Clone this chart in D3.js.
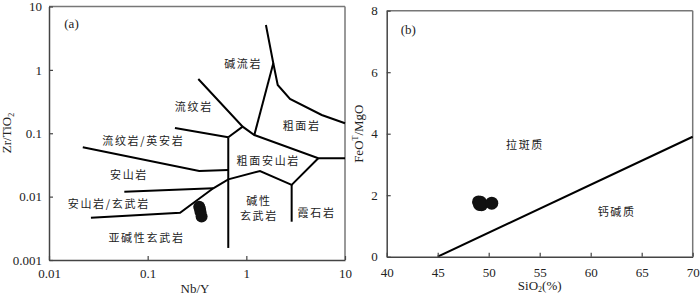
<!DOCTYPE html>
<html><head><meta charset="utf-8">
<script src="https://cdn.jsdelivr.net/npm/d3@7"></script>
<style>
html,body{margin:0;padding:0;background:#fff;}
svg text{fill:#222;}
.num{font-family:"Liberation Serif","DejaVu Serif",serif;font-size:13px;}
.cjk{font-family:"Noto Sans CJK SC",sans-serif;font-size:11px;letter-spacing:1.7px;}
</style>
</head><body>
<svg id="c" width="700" height="298"></svg>
<script>
// ---------- Data: panel (a) Nb/Y vs Zr/TiO2 ----------
const aTicksX = [0.01, 0.1, 1, 10];
const aTicksY = [0.001, 0.01, 0.1, 1, 10];
const aTickLabelsX = ["0.01", "0.1", "1", "10"];
const aTickLabelsY = ["0.001", "0.01", "0.1", "1", "10"];
const aBoundaries = [
  [[1.58,5.1],[1.876,1.27],[2.08,0.577],[2.77,0.347],[5.81,0.194],[10,0.1436]],
  [[1.876,1.27],[1.205,0.0938]],
  [[0.326,0.718],[0.918,0.127],[1.205,0.0938],[5.36,0.0403],[10,0.0403]],
  [[0.918,0.127],[0.656,0.0863]],
  [[0.189,0.121],[0.656,0.0863]],
  [[0.656,0.0863],[0.656,0.00155]],
  [[5.36,0.0403],[2.88,0.0153],[1.376,0.0254],[0.656,0.01876],[0.462,0.01353],[0.213,0.00557],[0.0266,0.00465]],
  [[0.058,0.01197],[0.462,0.01353]],
  [[0.022,0.06],[0.333,0.0254],[0.656,0.0263]],
  [[2.88,0.0153],[2.88,0.00402]]
];
const aFieldNames = ["碱流岩","流纹岩","粗面岩","流纹岩/英安岩","粗面安山岩","安山岩","安山岩/玄武岩","亚碱性玄武岩","碱性","玄武岩","霞石岩"];
const aFieldX = [0.93, 0.294, 3.64, 0.0904, 1.67, 0.0647, 0.0404, 0.0973, 1.343, 1.343, 5.16];
const aFieldY = [1.27, 0.269, 0.1334, 0.0782, 0.0378, 0.0228, 0.00794, 0.00231, 0.0087, 0.00505, 0.00578];
const aSampleNbY = [0.333, 0.339, 0.343, 0.352];
const aSampleZrTi = [0.00695, 0.00638, 0.00572, 0.00484];

// ---------- Data: panel (b) SiO2 vs FeOT/MgO ----------
const bTicksX = [40, 45, 50, 55, 60, 65, 70];
const bTicksY = [0, 2, 4, 6, 8];
const bDivider = [[45, 0], [70, 3.9]];
const bFieldNames = ["拉斑质", "钙碱质"];
const bFieldX = [53.56, 62.55];
const bFieldY = [3.665, 1.476];
const bSampleSiO2 = [49.0, 49.1, 49.3, 49.2, 50.3];
const bSampleFeMg = [1.78, 1.70, 1.69, 1.77, 1.74];

const svg = d3.select("#c");

function frame(g, x0, x1, y0, y1) {
  g.append("line").attr("x1", x0).attr("x2", x1).attr("y1", y0).attr("y2", y0)
    .attr("stroke", "#777").attr("stroke-width", 1.5);
  g.append("line").attr("x1", x1).attr("x2", x1).attr("y1", y0).attr("y2", y1)
    .attr("stroke", "#777").attr("stroke-width", 1.5);
}
function styleAxis(g) {
  g.select(".domain").attr("stroke", "#444").attr("stroke-width", 1.5);
  g.selectAll(".tick line").attr("stroke", "#444").attr("stroke-width", 1.2);
  g.selectAll(".tick text").attr("class", "num").attr("fill", "#222")
    .style("font-family", '"Liberation Serif",serif').style("font-size", "13px");
}

// ---------- Panel (a) ----------
const ax = d3.scaleLog().domain([0.01, 10]).range([49, 345]);
const ay = d3.scaleLog().domain([0.001, 10]).range([260, 6.5]);
const ga = svg.append("g");
frame(ga, 49, 345, 6.5, 260);
const aLine = d3.line().x(d => ax(d[0])).y(d => ay(d[1]));
ga.selectAll("path.bd").data(aBoundaries).join("path").attr("class", "bd")
  .attr("d", aLine).attr("fill", "none").attr("stroke", "#000").attr("stroke-width", 2)
  .attr("stroke-linejoin", "miter");
ga.append("g").attr("transform", "translate(0,260)")
  .call(d3.axisBottom(ax).tickValues(aTicksX).tickFormat((d, i) => aTickLabelsX[i]).tickSize(-4).tickSizeOuter(0).tickPadding(9))
  .call(styleAxis);
ga.append("g").attr("transform", "translate(49,0)")
  .call(d3.axisLeft(ay).tickValues(aTicksY).tickFormat((d, i) => aTickLabelsY[i]).tickSize(-4).tickSizeOuter(0).tickPadding(7))
  .call(styleAxis);
ga.selectAll("text.fa").data(aFieldNames).join("text").attr("class", "cjk")
  .attr("x", (d, i) => ax(aFieldX[i])).attr("y", (d, i) => ay(aFieldY[i]))
  .attr("text-anchor", "middle").attr("dominant-baseline", "central").text(d => d);
ga.selectAll("circle").data(aSampleNbY).join("circle")
  .attr("cx", d => ax(d)).attr("cy", (d, i) => ay(aSampleZrTi[i])).attr("r", 6).attr("fill", "#111");
ga.append("text").attr("class", "num").attr("x", 71.5).attr("y", 23.5).attr("text-anchor", "middle")
  .attr("dominant-baseline", "central").text("(a)");
ga.append("text").attr("class", "num").attr("transform", "translate(11,133) rotate(-90)")
  .attr("text-anchor", "middle").html('Zr/TiO<tspan font-size="8" dy="3">2</tspan>');
ga.append("text").attr("class", "num").attr("x", 195).attr("y", 293).attr("text-anchor", "middle").text("Nb/Y");

// ---------- Panel (b) ----------
const bx = d3.scaleLinear().domain([40, 70]).range([386.7, 692.7]);
const by = d3.scaleLinear().domain([0, 8]).range([256.7, 10.7]);
const gb = svg.append("g");
frame(gb, 386.7, 692.7, 10.7, 256.7);
const bLine = d3.line().x(d => bx(d[0])).y(d => by(d[1]));
gb.append("path").datum(bDivider).attr("d", bLine).attr("fill", "none").attr("stroke", "#000").attr("stroke-width", 2);
gb.append("g").attr("transform", "translate(0,256.7)")
  .call(d3.axisBottom(bx).tickValues(bTicksX).tickFormat(d3.format("d")).tickSize(-4).tickSizeOuter(0).tickPadding(11))
  .call(styleAxis);
gb.append("g").attr("transform", "translate(386.7,0)")
  .call(d3.axisLeft(by).tickValues(bTicksY).tickFormat(d3.format("d")).tickSize(-4).tickSizeOuter(0).tickPadding(9))
  .call(styleAxis);
gb.selectAll("text.fb").data(bFieldNames).join("text").attr("class", "cjk")
  .attr("x", (d, i) => bx(bFieldX[i])).attr("y", (d, i) => by(bFieldY[i]))
  .attr("text-anchor", "middle").attr("dominant-baseline", "central").text(d => d);
gb.selectAll("circle").data(bSampleSiO2).join("circle")
  .attr("cx", d => bx(d)).attr("cy", (d, i) => by(bSampleFeMg[i])).attr("r", 6.5).attr("fill", "#111");
gb.append("text").attr("class", "num").attr("x", 408.3).attr("y", 29.5).attr("text-anchor", "middle")
  .attr("dominant-baseline", "central").text("(b)");
gb.append("text").attr("class", "num").attr("transform", "translate(363,133.7) rotate(-90)")
  .attr("text-anchor", "middle").html('FeO<tspan font-size="8" dy="-5">T</tspan><tspan dy="5">/MgO</tspan>');
gb.append("text").attr("class", "num").attr("x", 539.7).attr("y", 290).attr("text-anchor", "middle")
  .html('SiO<tspan font-size="8" dy="2">2</tspan><tspan dy="-2">(%)</tspan>');
</script>
</body></html>
